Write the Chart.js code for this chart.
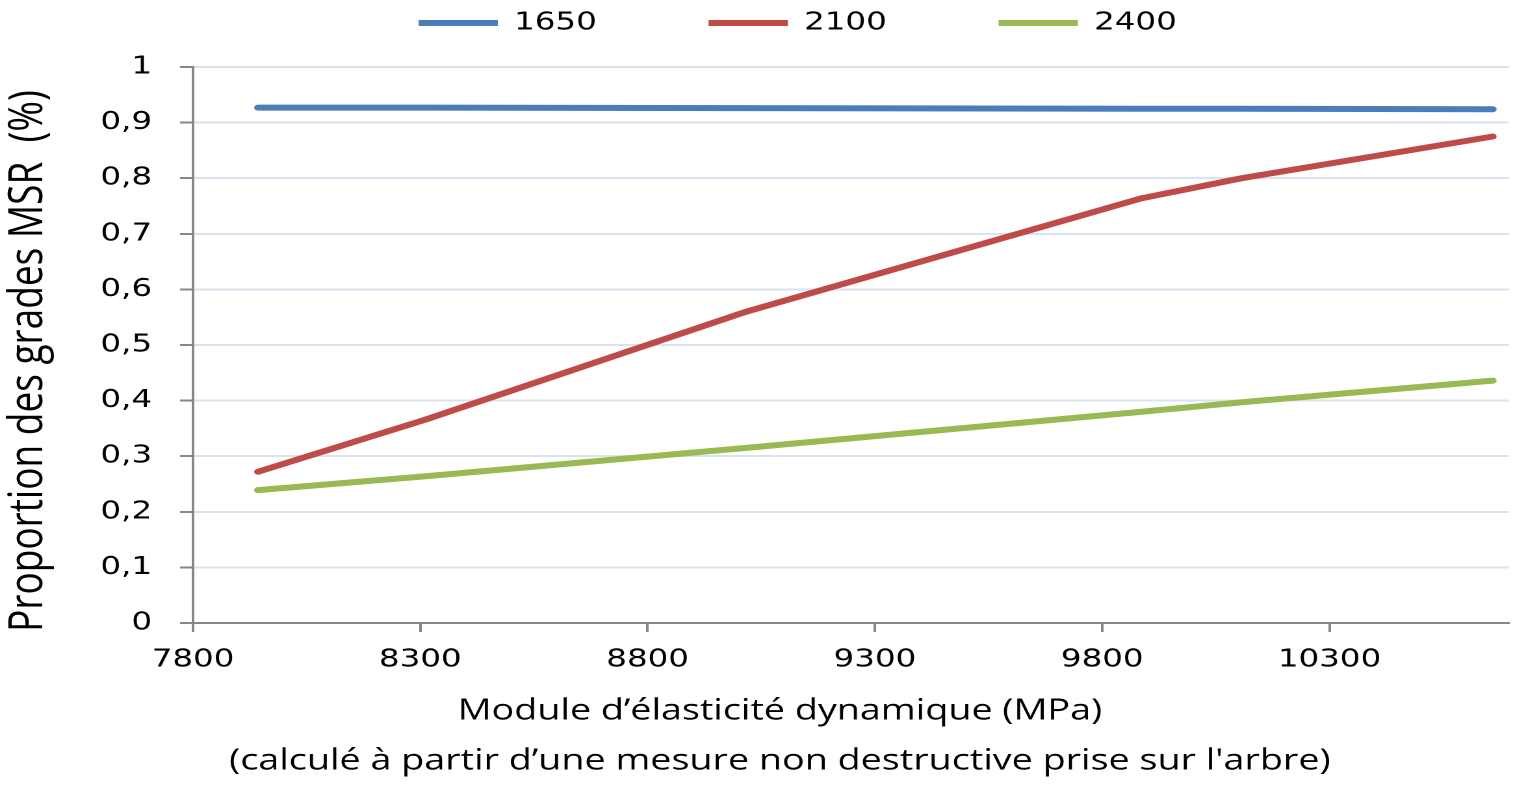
<!DOCTYPE html>
<html>
<head>
<meta charset="utf-8">
<script src="https://cdn.jsdelivr.net/npm/chart.js@4.4.1/dist/chart.umd.min.js"></script>
<style>
html, body { margin: 0; padding: 0; background: #ffffff; overflow: hidden; }
#wrap { position: absolute; left: 0; top: 0; width: 1164px; height: 786px; transform-origin: 0 0; transform: scaleX(1.29983); }
</style>
</head>
<body>
<div id="wrap"><canvas id="c"></canvas></div>
<script>
const seriesLabels = ['1650', '2100', '2400'];
const moduleMPa = [7943, 8312, 9017, 9887, 10107, 10659];
const grade1650 = [0.927, 0.927, 0.926, 0.925, 0.925, 0.924];
const grade2100 = [0.272, 0.366, 0.560, 0.764, 0.800, 0.875];
const grade2400 = [0.239, 0.264, 0.315, 0.380, 0.397, 0.436];
const xTickValues = [7800, 8300, 8800, 9300, 9800, 10300];
const xTickLabels = ['7800', '8300', '8800', '9300', '9800', '10300'];
const yTickValues = [0, 0.1, 0.2, 0.3, 0.4, 0.5, 0.6, 0.7, 0.8, 0.9, 1];
const yTickLabels = ['0', '0,1', '0,2', '0,3', '0,4', '0,5', '0,6', '0,7', '0,8', '0,9', '1'];
const xTitle = ['Module d’élasticité dynamique (MPa)', "(calculé à partir d’une mesure non destructive prise sur l'arbre)"];
const yTitle = 'Proportion des grades MSR  (%)';
const seriesColors = ['#4A7EBB', '#BE4B48', '#98B954'];

const toPoints = (ys) => moduleMPa.map((x, i) => ({ x: x, y: ys[i] }));
const seriesValues = [grade1650, grade2100, grade2400];

const layoutTweaks = {
  id: 'layoutTweaks',
  afterLayout(chart) {
    const lg = chart.legend;
    if (lg && lg.lineWidths) {
      const pad = lg.options.labels.padding;
      const cur = (lg.left + pad + lg.right - lg.lineWidths[0]) / 2;
      const dx = 322 - cur;
      lg.left += dx; lg.right += dx;
      lg.top = 10.5 - pad;
      lg.bottom = 60;
    }
    const patch = (scale, shift) => {
      if (!scale || scale.__patched) return;
      const orig = scale.drawTitle;
      scale.drawTitle = function () {
        const saved = { left: this.left, right: this.right, top: this.top, bottom: this.bottom };
        shift(this);
        orig.call(this);
        Object.assign(this, saved);
      };
      scale.__patched = true;
    };
    patch(chart.scales.x, (s) => { const d = 600 - (s.left + s.right) / 2; s.left += d; s.right += d; });
    patch(chart.scales.y, (s) => { const d = 361 - (s.top + s.bottom) / 2; s.top += d; s.bottom += d; });
  }
};

new Chart(document.getElementById('c'), {
  type: 'line',
  data: {
    datasets: seriesLabels.map((lab, i) => ({
      label: lab,
      data: toPoints(seriesValues[i]),
      borderColor: seriesColors[i],
      backgroundColor: seriesColors[i],
      borderWidth: 6,
      borderCapStyle: 'round',
      borderJoinStyle: 'round',
      pointRadius: 0,
      pointHoverRadius: 0,
      tension: 0,
      fill: false
    }))
  },
  options: {
    responsive: true,
    maintainAspectRatio: false,
    animation: false,
    devicePixelRatio: 2,
    layout: { padding: 0 },
    plugins: {
      tooltip: { enabled: false },
      legend: {
        display: true,
        position: 'top',
        align: 'center',
        maxHeight: 67,
        labels: {
          usePointStyle: true,
          pointStyle: 'line',
          pointStyleWidth: 61,
          padding: 86,
          color: '#000000',
          font: { family: 'DejaVu Sans', size: 25 }
        }
      }
    },
    scales: {
      x: {
        type: 'linear',
        min: 7800,
        max: 10695,
        afterBuildTicks: (scale) => { scale.ticks = xTickValues.map(v => ({ value: v })); },
        afterFit: (scale) => { scale.height = 163; },
        ticks: {
          callback: (v, i) => xTickLabels[i],
          color: '#000000',
          font: { family: 'DejaVu Sans', size: 25 },
          padding: 13,
          maxRotation: 0,
          minRotation: 0,
          autoSkip: false
        },
        grid: { drawOnChartArea: false, drawTicks: true, tickLength: 9, tickColor: '#868686', tickWidth: 2 },
        border: { display: true, color: '#868686', width: 2 },
        title: {
          display: true,
          text: xTitle,
          color: '#000000',
          font: { family: 'Open Sans', size: 29, lineHeight: 1.72 },
          padding: { top: 0, bottom: 0 }
        }
      },
      y: {
        type: 'linear',
        min: 0,
        max: 1,
        afterBuildTicks: (scale) => { scale.ticks = yTickValues.map(v => ({ value: v })); },
        afterFit: (scale) => { scale.width = 148.5; },
        ticks: {
          callback: (v, i) => yTickLabels[i],
          color: '#000000',
          font: { family: 'DejaVu Sans', size: 25 },
          padding: 21.5
        },
        grid: { color: '#d9e3f0', lineWidth: 2, drawTicks: true, tickLength: 10, tickColor: '#868686', tickWidth: 2 },
        border: { display: true, color: '#868686', width: 2 },
        title: {
          display: true,
          text: yTitle,
          color: '#000000',
          font: { family: 'Open Sans', size: 37, lineHeight: 1.2 },
          padding: { top: 0, bottom: 0 }
        }
      }
    }
  },
  plugins: [layoutTweaks]
});
</script>
</body>
</html>
